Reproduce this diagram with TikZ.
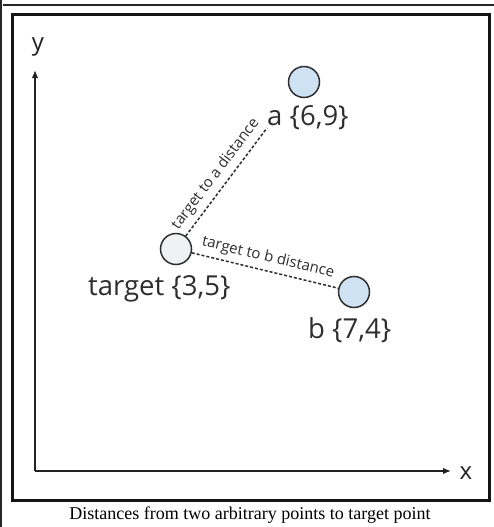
\documentclass[tikz,border=0pt]{standalone}
\usepackage{fontspec}
\setmainfont{Liberation Serif}
\newfontfamily\labfont{Open Sans}
\usetikzlibrary{arrows.meta}
\definecolor{txt}{HTML}{2E2E2E}
\definecolor{ptblue}{HTML}{CFE2F3}
\definecolor{ptgray}{HTML}{F0F1F2}
\definecolor{axcol}{HTML}{222222}
\begin{document}
\begin{tikzpicture}[x=1pt,y=-1pt,
  pt/.style={circle, draw=txt, line width=1.5pt, minimum size=31pt, inner sep=0pt},
  lab/.style={font=\labfont\fontsize{27.5}{32}\selectfont, text=txt, inner sep=0pt},
  axlab/.style={font=\labfont\fontsize{24}{28}\selectfont, text=axcol, inner sep=0pt},
  small/.style={font=\labfont\fontsize{15}{18}\selectfont, text=txt, inner sep=0pt},
  dist/.style={draw=txt, line width=1.5pt, dash pattern=on 3pt off 2pt},
  axis/.style={draw=axcol, line width=1.5pt, -{Latex[length=8pt,width=6.5pt]}},
  frame/.style={draw=black!92, line width=3pt}]
\useasboundingbox (0,0) rectangle (494,527);
\fill[white] (0,0) rectangle (494,527);
% outer border lines
\draw[black!85, line width=2.2pt] (1.2,527) -- (1.2,0);
\draw[black!85, line width=1.8pt] (3,5) -- (494,5);
% inner frame
\draw[frame] (12.5,14.5) rectangle (489,500);
% axes
\coordinate (o) at (35,471);
\coordinate (ytip) at (35,70);
\coordinate (xtip) at (451,471);
\draw[axis] (o) -- (ytip);
\draw[axis] (o) -- (xtip);
\node[axlab, anchor=base] (ylab) at (38,51) {y};
\node[axlab, anchor=base] (xlab) at (466,479) {x};
% points
\node[pt, fill=ptblue] (a) at (304,82) {};
\node[pt, fill=ptgray] (t) at (176,249) {};
\node[pt, fill=ptblue] (b) at (354,292) {};
\node[lab, anchor=base west] (al) at (267,125) {a \{6,9\}};
\node[lab, anchor=base west] (tl) at (88,295) {target \{3,5\}};
\node[lab, anchor=base west] (bl) at (308,338) {b \{7,4\}};
% distances
\coordinate (aend) at (267,128);
\draw[dist] (t) -- (aend) node[small, midway, sloped, above=5pt] (la) {target to a distance};
\draw[dist] (t) -- (b) node[small, midway, sloped, above=5pt] (lb) {target to b distance};
% caption
\node[font=\fontsize{18}{21}\selectfont, anchor=base, inner sep=0pt] (cap) at (250,519) {Distances from two arbitrary points to target point};
\end{tikzpicture}
\end{document}
